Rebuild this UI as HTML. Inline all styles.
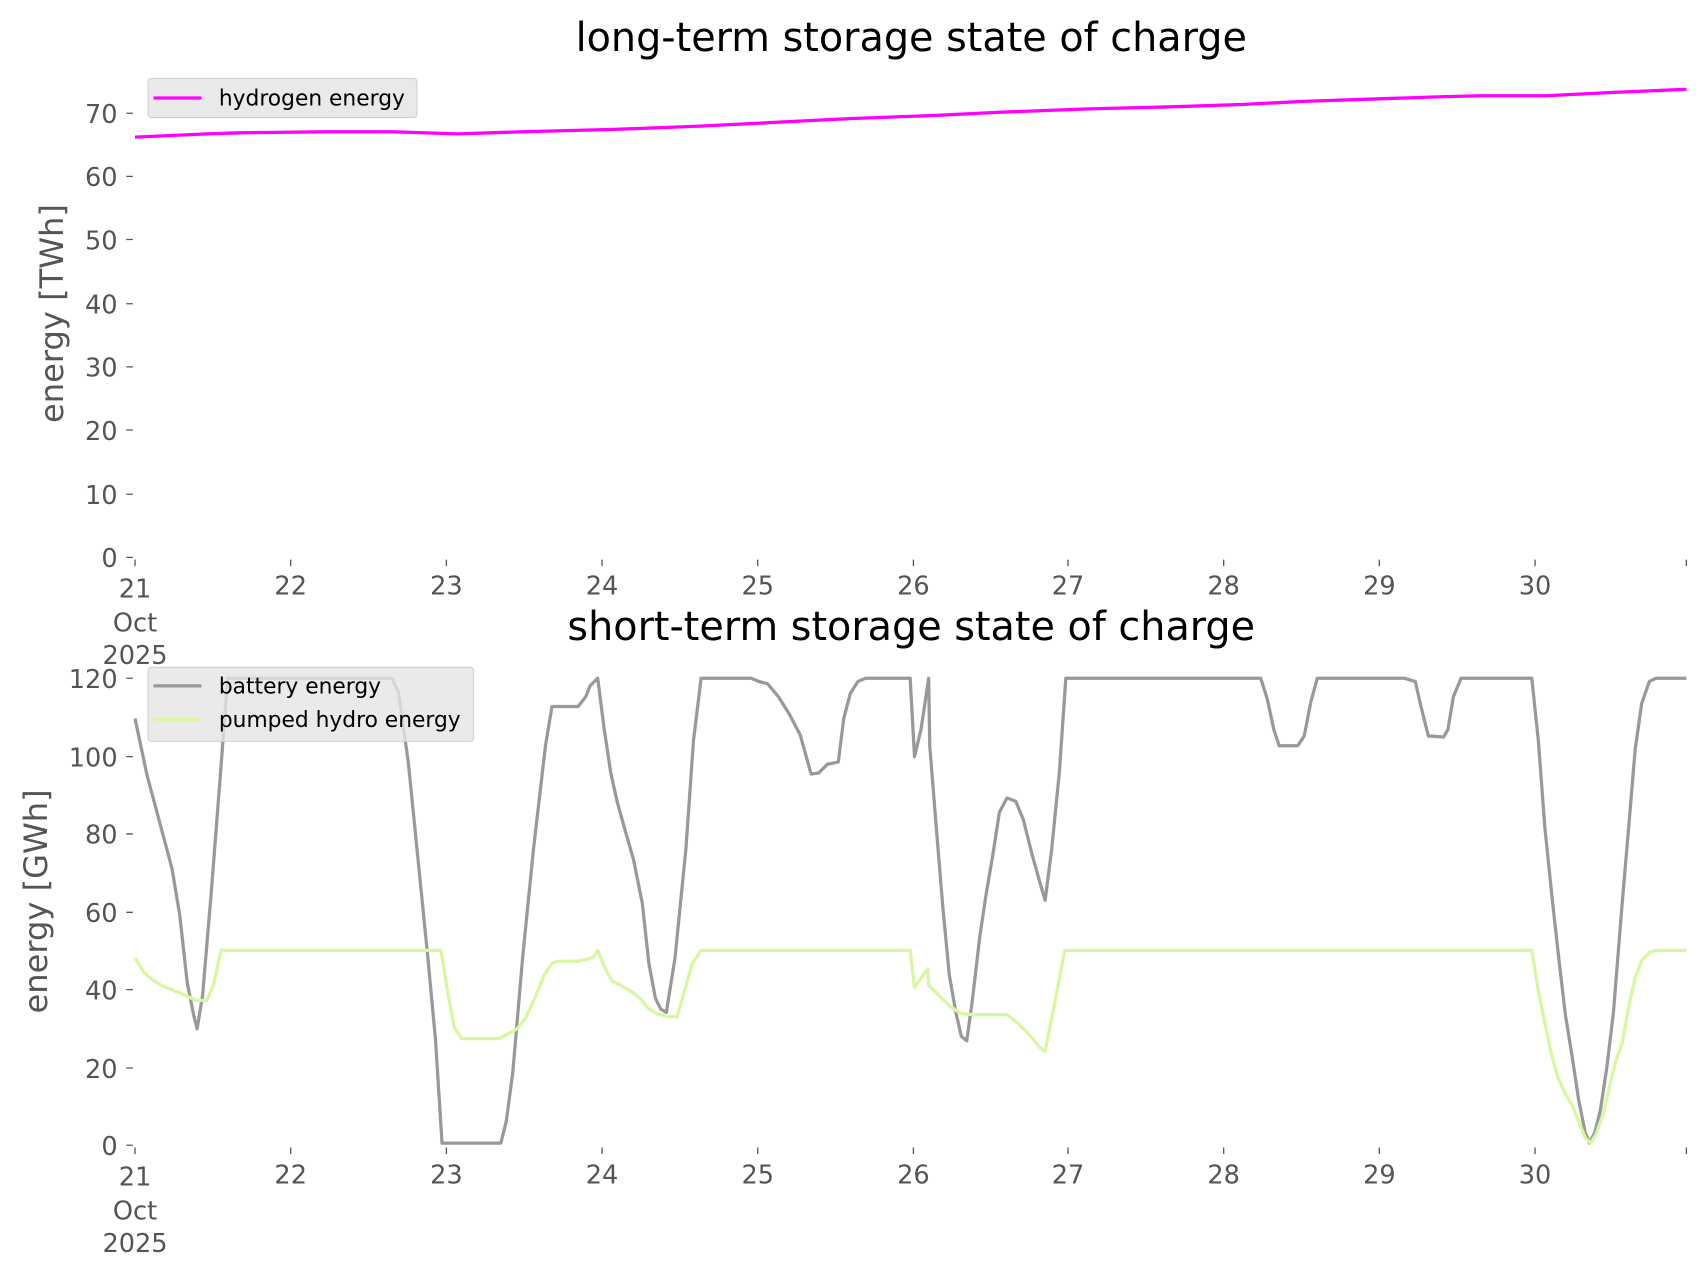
<!DOCTYPE html>
<html><head><meta charset="utf-8"><style>html,body{margin:0;padding:0;background:#fff}svg{display:block}</style></head>
<body>
<svg width="1706" height="1277" viewBox="0 0 1567 1173" xmlns="http://www.w3.org/2000/svg" font-family="DejaVu Sans, Liberation Sans, sans-serif">
<rect width="1600" height="1200" fill="#fff"/>
<text x="837" y="47" font-size="36.5" text-anchor="middle" fill="#000">long-term storage state of charge</text>
<text x="837" y="588" font-size="36.5" text-anchor="middle" fill="#000">short-term storage state of charge</text>
<text transform="translate(58,288) rotate(-90)" font-size="29.5" text-anchor="middle" fill="#555">energy [TWh]</text>
<text transform="translate(43,828) rotate(-90)" font-size="29.5" text-anchor="middle" fill="#555">energy [GWh]</text>
<g font-size="23.5" fill="#555" text-anchor="end">
<text x="108" y="521">0</text><text x="108" y="463">10</text><text x="108" y="404">20</text><text x="108" y="346">30</text><text x="108" y="288">40</text><text x="108" y="229">50</text><text x="108" y="171">60</text><text x="108" y="113">70</text>
<text x="108" y="1061">0</text><text x="108" y="990">20</text><text x="108" y="918">40</text><text x="108" y="847">60</text><text x="108" y="775">80</text><text x="108" y="704">100</text><text x="108" y="632">120</text>
</g>
<g stroke="#555" stroke-width="1.2">
<path d="M116 512h6M116 454h6M116 395h6M116 337h6M116 279h6M116 220h6M116 162h6M116 104h6"/>
<path d="M116 1052h6M116 981h6M116 909h6M116 838h6M116 766h6M116 695h6M116 623h6"/>
<path d="M124 514v6M267 514v6M410 514v6M553 514v6M696 514v6M839 514v6M981 514v6M1124 514v6M1267 514v6M1410 514v6M1549 514v6"/>
<path d="M124 1054v6M267 1054v6M410 1054v6M553 1054v6M696 1054v6M839 1054v6M981 1054v6M1124 1054v6M1267 1054v6M1410 1054v6M1549 1054v6"/>
</g>
<g font-size="23.5" fill="#555" text-anchor="middle">
<text x="124" y="549">21</text><text x="124" y="580">Oct</text><text x="124" y="610">2025</text>
<text x="267" y="546">22</text><text x="410" y="546">23</text><text x="553" y="546">24</text><text x="696" y="546">25</text><text x="839" y="546">26</text><text x="981" y="546">27</text><text x="1124" y="546">28</text><text x="1267" y="546">29</text><text x="1410" y="546">30</text>
<text x="124" y="1089">21</text><text x="124" y="1120">Oct</text><text x="124" y="1150">2025</text>
<text x="267" y="1087">22</text><text x="410" y="1087">23</text><text x="553" y="1087">24</text><text x="696" y="1087">25</text><text x="839" y="1087">26</text><text x="981" y="1087">27</text><text x="1124" y="1087">28</text><text x="1267" y="1087">29</text><text x="1410" y="1087">30</text>
</g>
<polyline fill="none" stroke="#ff00ff" stroke-width="3" points="124,126 190,123 220,122 300,121 360,121 420,123 480,121 560,119 640,116 720,112 780,109 860,106 920,103 1000,100 1080,98 1140,96 1200,93 1260,91 1320,89 1360,88 1420,88 1480,85 1549,82"/>
<rect x="136" y="72" width="247" height="36" rx="3" fill="#e5e5e5" fill-opacity="0.85" stroke="#d0d0d0"/>
<line x1="141" y1="90" x2="185" y2="90" stroke="#ff00ff" stroke-width="3"/>
<text x="201" y="97" font-size="20" fill="#000">hydrogen energy</text>
<polyline fill="none" stroke="#999" stroke-width="3" stroke-linejoin="round" points="124,660 135,712 150,768 158,798 165,840 172,903 178,933 181,945 186,915 194,820 203,704 209,623 360,623 366,636 375,700 385,800 393,880 400,955 406,1050 460,1050 465,1030 471,985 480,880 490,780 501,685 507,649 531,649 538,640 542,630 549,623 555,670 561,710 567,737 574,762 582,790 590,830 596,885 602,917 607,927 612,930 620,880 630,780 637,680 644,623 690,623 697,626 705,628 715,640 725,656 735,675 745,711 752,710 760,702 770,700 775,660 781,637 788,626 795,623 836,623 840,695 846,670 853,623 854,685 860,760 866,833 872,896 878,930 883,952 888,956 893,920 900,860 906,820 912,785 918,746 925,733 933,736 940,753 948,785 955,810 960,827 966,780 973,710 979,623 1158,623 1164,642 1170,670 1175,685 1192,685 1198,676 1204,645 1210,623 1290,623 1300,626 1305,648 1312,676 1326,677 1330,670 1335,640 1342,623 1407,623 1413,680 1419,760 1426,828 1432,882 1438,933 1444,970 1450,1010 1456,1040 1460,1050 1465,1040 1470,1020 1476,980 1482,930 1490,830 1496,760 1502,688 1508,646 1515,626 1521,623 1549,623"/>
<polyline fill="none" stroke="#d8f7a0" stroke-width="3" stroke-linejoin="round" points="124,880 132,893 140,900 148,905 160,910 170,914 180,919 190,919 196,905 203,873 405,873 411,910 417,943 424,954 458,954 466,950 475,945 483,935 492,915 500,895 507,885 512,883 530,883 540,881 545,879 549,873 555,888 562,901 570,905 580,911 588,917 595,926 603,931 613,934 622,934 628,913 636,885 644,873 836,873 840,907 845,900 852,890 853,905 860,912 866,918 872,924 878,928 883,931 893,932 925,932 935,940 945,950 955,962 960,966 966,935 972,905 978,873 1407,873 1413,910 1419,940 1425,968 1431,990 1438,1005 1444,1015 1450,1030 1456,1045 1461,1050 1466,1042 1472,1025 1478,1000 1484,975 1490,958 1496,925 1502,898 1508,882 1515,875 1521,873 1549,873"/>
<rect x="136" y="613" width="299" height="68" rx="3" fill="#e5e5e5" fill-opacity="0.8" stroke="#d0d0d0"/>
<line x1="141" y1="630" x2="185" y2="630" stroke="#999" stroke-width="3"/>
<text x="201" y="637" font-size="20" fill="#000">battery energy</text>
<line x1="141" y1="661" x2="185" y2="661" stroke="#d8f7a0" stroke-width="3"/>
<text x="201" y="668" font-size="20" fill="#000">pumped hydro energy</text>
</svg>
</body></html>
